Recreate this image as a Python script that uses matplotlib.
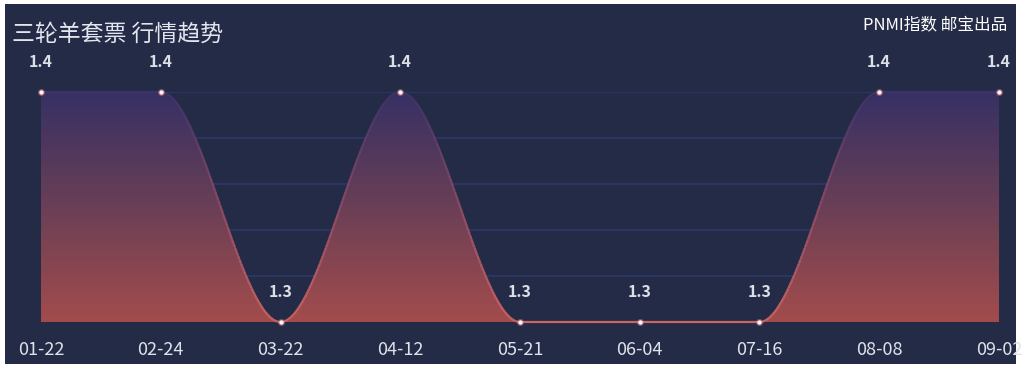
import numpy as np
import matplotlib.pyplot as plt
from matplotlib.patches import Rectangle, Polygon
from matplotlib.colors import LinearSegmentedColormap
from matplotlib.collections import LineCollection

plt.rcParams['font.family'] = ['Noto Sans CJK SC', 'DejaVu Sans']

# dados do grafico
datas = ['01-22', '02-24', '03-22', '04-12', '05-21', '06-04', '07-16', '08-08', '09-02']
precos = [1.4, 1.4, 1.3, 1.4, 1.3, 1.3, 1.3, 1.4, 1.4]
rotulos = ['1.4', '1.4', '1.3', '1.4', '1.3', '1.3', '1.3', '1.4', '1.4']
titulo = '三轮羊套票 行情趋势'
assinatura = 'PNMI指数 邮宝出品'

fundo = '#232b47'
fig = plt.figure(figsize=(10.23, 3.71), dpi=100, facecolor='white')
fig.patches.append(Rectangle((5 / 1023, 7 / 371), 1011 / 1023, 360 / 371,
                             transform=fig.transFigure, facecolor=fundo,
                             edgecolor='none', zorder=-5))

ax = fig.add_axes([41 / 1023, 49 / 371, 958 / 1023, 230 / 371])
ax.set_facecolor('none')
x = np.arange(len(datas))
ax.set_xlim(0, len(datas) - 1)
ax.set_ylim(1.3, 1.4)

# curva suave (cada trecho em S, tangente horizontal nos pontos)
xs, ys = [], []
for i in range(len(x) - 1):
    t = np.linspace(0, 1, 80)
    s = 3 * t ** 2 - 2 * t ** 3
    xs.append(x[i] + t)
    ys.append(precos[i] + (precos[i + 1] - precos[i]) * s)
xs = np.concatenate(xs)
ys = np.concatenate(ys)

# linhas de grade
for g in np.arange(1.32, 1.401, 0.02):
    ax.axhline(g, color='#2d3868', lw=1.2, zorder=1)

# preenchimento em degrade
cmap = LinearSegmentedColormap.from_list('deg', ['#a34c4c', '#6a3f56', '#363064'])
grad = np.linspace(0, 1, 256).reshape(-1, 1)
img = ax.imshow(grad, cmap=cmap, aspect='auto', origin='lower',
                extent=[0, len(datas) - 1, 1.3, 1.4], zorder=2)
poly = Polygon(np.column_stack([np.r_[xs, xs[-1], xs[0]], np.r_[ys, 1.3, 1.3]]),
               closed=True, facecolor='none', edgecolor='none')
ax.add_patch(poly)
img.set_clip_path(poly)

# linha com cor conforme a altura
cmap_l = LinearSegmentedColormap.from_list('lin', ['#cc6462', '#8a4a66', '#3c3468'])
pts = np.column_stack([xs, ys]).reshape(-1, 1, 2)
segs = np.concatenate([pts[:-1], pts[1:]], axis=1)
lc = LineCollection(segs, cmap=cmap_l, linewidths=1.6, zorder=3, clip_on=False)
lc.set_array((ys[:-1] + ys[1:]) / 2)
lc.set_clim(1.3, 1.4)
ax.add_collection(lc)

ax.scatter(x, precos, s=26, color='#d9777a', alpha=0.5, lw=0, zorder=4, clip_on=False)
ax.scatter(x, precos, s=10, color='#fff2f2', lw=0, zorder=5, clip_on=False)

for xi, yi, r in zip(x, precos, rotulos):
    ax.annotate(r, (xi, yi), xytext=(0, 30), textcoords='offset pixels',
                ha='center', va='center', color='#dcdfe8', fontsize=11.5, fontweight='bold')

ax.set_xticks(x)
ax.set_xticklabels(datas, color='#dfe2ea', fontsize=13)
ax.tick_params(axis='x', length=0, pad=14)
ax.set_yticks([])
for sp in ax.spines.values():
    sp.set_visible(False)

fig.text(12 / 1023, 1 - 34 / 371, titulo, color='#e4e5ee', fontsize=16.5, va='center', ha='left')
fig.text(1007 / 1023, 1 - 25 / 371, assinatura, color='#ffffff', fontsize=12, va='center', ha='right')

fig.savefig('out.png', dpi=100, facecolor='white')
